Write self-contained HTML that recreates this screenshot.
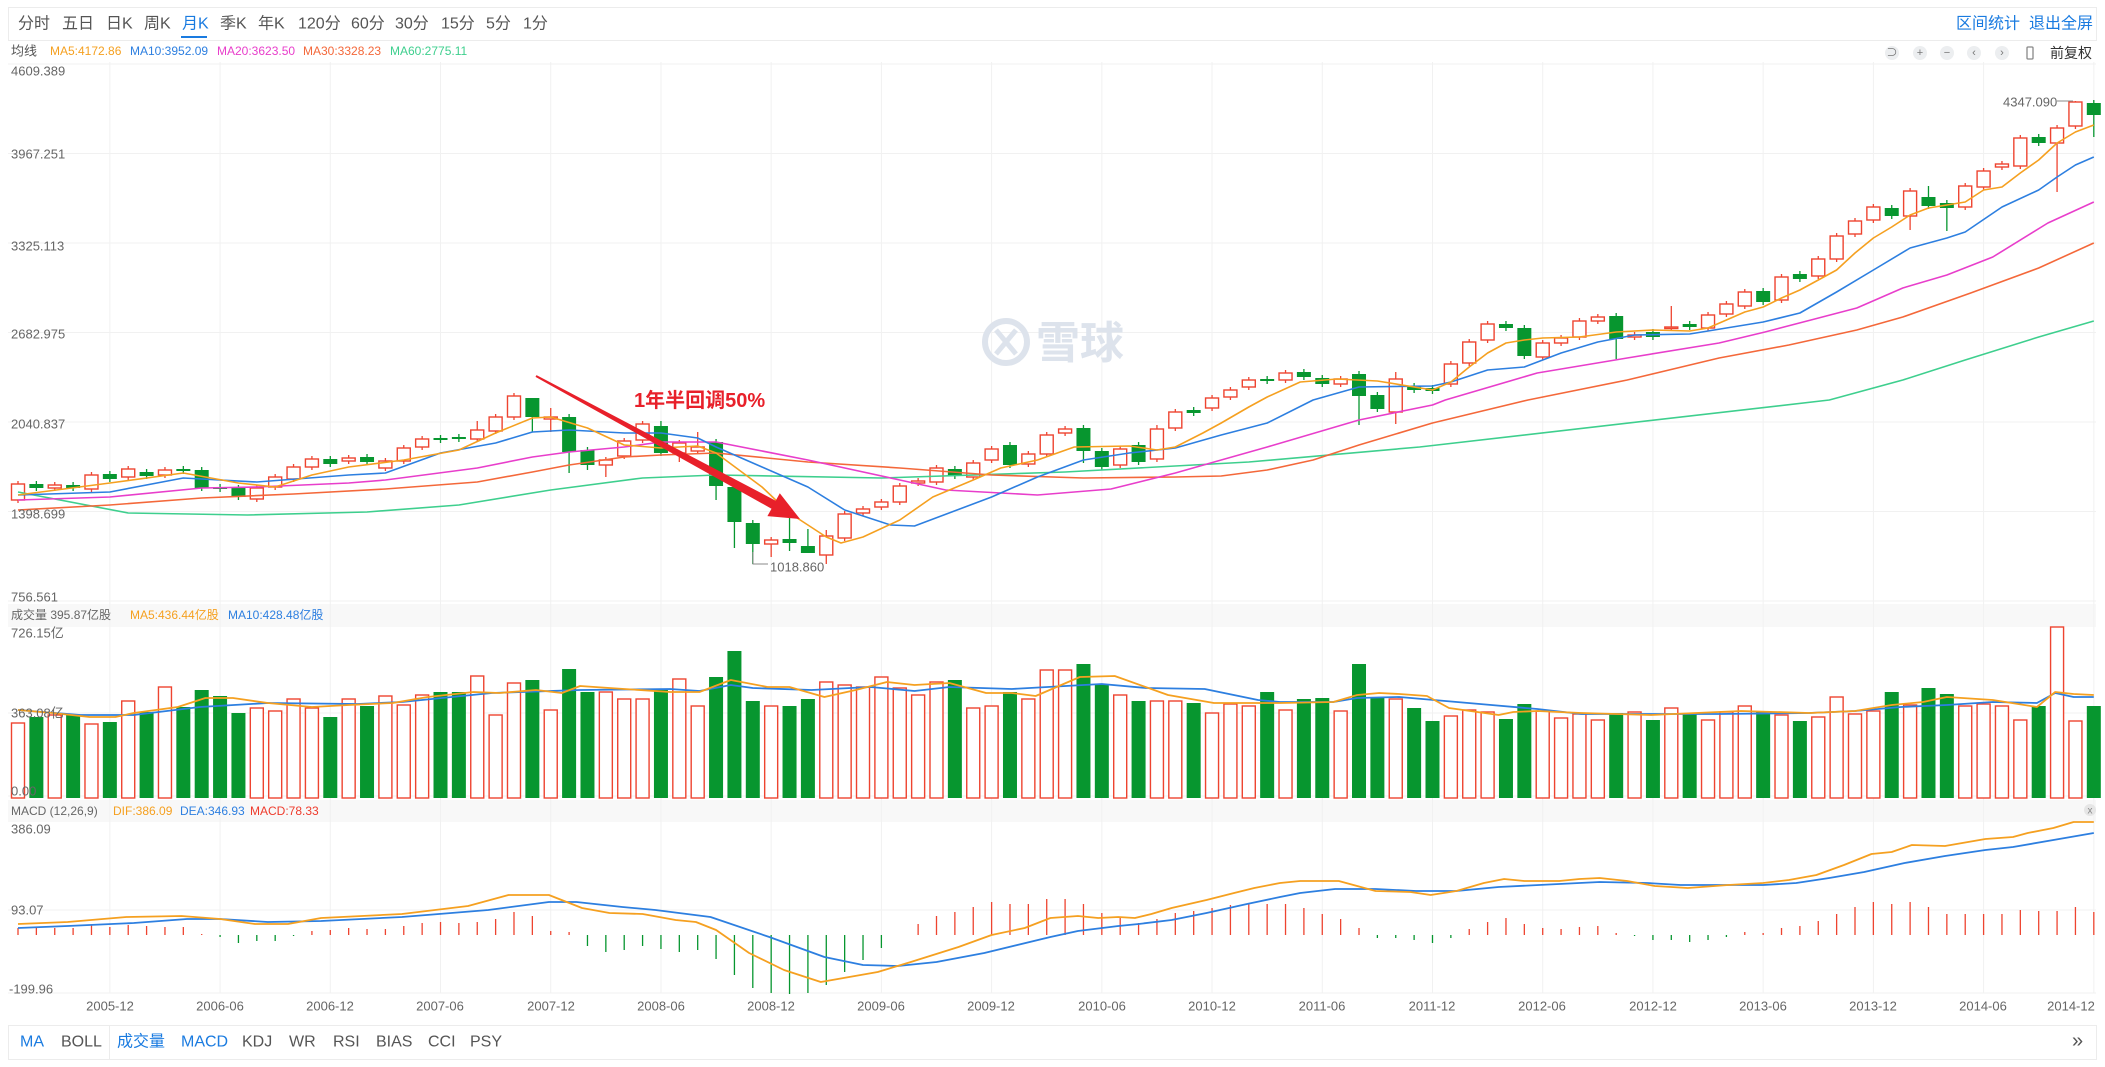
<!DOCTYPE html>
<html><head><meta charset="utf-8"><style>
html,body{margin:0;padding:0;background:#fff;}
body{width:2105px;height:1067px;overflow:hidden;position:relative;font-family:"Liberation Sans","Noto Sans CJK SC",sans-serif;}
svg{position:absolute;left:0;top:0;}
</style></head><body>
<svg id="s" width="2105" height="1067" xmlns="http://www.w3.org/2000/svg" font-family="Liberation Sans, Noto Sans CJK SC, sans-serif">
<rect x="8.5" y="7.5" width="2088" height="33" fill="#fff" stroke="#ececec"/>
<g font-size="16" fill="#555" dominant-baseline="central">
<text x="18" y="24">分时</text><text x="62" y="24">五日</text><text x="106" y="24">日K</text><text x="144" y="24">周K</text>
<text x="182" y="24" fill="#1a7be0">月K</text><text x="220" y="24">季K</text><text x="258" y="24">年K</text>
<text x="298" y="24">120分</text><text x="351" y="24">60分</text><text x="395" y="24">30分</text><text x="441" y="24">15分</text><text x="486" y="24">5分</text><text x="523" y="24">1分</text>
<text x="1956" y="24" fill="#1a7be0">区间统计</text><text x="2029" y="24" fill="#1a7be0">退出全屏</text>
</g>
<rect x="181" y="36" width="26" height="2" fill="#1a7be0"/>
<g font-size="12" dominant-baseline="central">
<text x="11" y="51" fill="#555" font-size="13">均线</text>
<text x="50" y="51" fill="#f5a020">MA5:4172.86</text>
<text x="130" y="51" fill="#2d7fe0">MA10:3952.09</text>
<text x="217" y="51" fill="#e83ecb">MA20:3623.50</text>
<text x="303" y="51" fill="#f4683a">MA30:3328.23</text>
<text x="390" y="51" fill="#3ecf8e">MA60:2775.11</text>
<text x="2050" y="53" fill="#333" font-size="14">前复权</text>
</g>
<g fill="#eceef0">
<circle cx="1892" cy="53" r="7"/><circle cx="1920" cy="53" r="7"/><circle cx="1947" cy="53" r="7"/><circle cx="1974" cy="53" r="7"/><circle cx="2002" cy="53" r="7"/>
</g>
<g font-size="11" fill="#777" text-anchor="middle" dominant-baseline="central">
<text x="1892" y="53">⊃</text><text x="1920" y="53">+</text><text x="1947" y="53">−</text><text x="1974" y="53">‹</text><text x="2002" y="53">›</text>
</g>
<rect x="2027" y="47" width="6" height="12" rx="1" fill="none" stroke="#888" stroke-width="1.3"/>
<rect x="8" y="604" width="2088" height="23" fill="#f8f8f8"/>
<rect x="8" y="800" width="2088" height="22" fill="#f8f8f8"/>
<g id="grid" stroke="#f1f1f1" stroke-width="1"></g>
<g>
<circle cx="1006" cy="342" r="21" fill="none" stroke="#dde3ec" stroke-width="6"/>
<path d="M996 330 L1016 354 M1016 330 L996 354" stroke="#dde3ec" stroke-width="5" fill="none"/>
<text x="1036" y="358" font-size="44" font-weight="bold" fill="#dde3ec">雪球</text>
</g>
<g id="plot"></g>
<g font-size="13" fill="#666" dominant-baseline="central">
<text x="11" y="71">4609.389</text><text x="11" y="154">3967.251</text><text x="11" y="246">3325.113</text>
<text x="11" y="334">2682.975</text><text x="11" y="424">2040.837</text><text x="11" y="514">1398.699</text><text x="11" y="597">756.561</text>
<text x="11" y="615" font-size="12">成交量 395.87亿股</text>
<text x="130" y="615" fill="#f5a020" font-size="12">MA5:436.44亿股</text>
<text x="228" y="615" fill="#2d7fe0" font-size="12">MA10:428.48亿股</text>
<text x="11" y="633">726.15亿</text><text x="11" y="713">363.08亿</text><text x="11" y="791">0.00</text>
<text x="11" y="811" font-size="12">MACD (12,26,9)</text>
<text x="113" y="811" fill="#f5a020" font-size="12">DIF:386.09</text>
<text x="180" y="811" fill="#2d7fe0" font-size="12">DEA:346.93</text>
<text x="250" y="811" fill="#ee3b2c" font-size="12">MACD:78.33</text>
<text x="11" y="829">386.09</text><text x="11" y="910">93.07</text><text x="9" y="989">-199.96</text>
<text x="770" y="567">1018.860</text>
<text x="2003" y="102">4347.090</text>
</g>
<circle cx="2090" cy="810" r="6" fill="#e6e6e6"/>
<text x="2090" y="811" font-size="10" fill="#888" text-anchor="middle" dominant-baseline="central">x</text>
<g font-size="13" fill="#666" text-anchor="middle" dominant-baseline="central">
<text x="110" y="1006">2005-12</text><text x="220" y="1006">2006-06</text><text x="330" y="1006">2006-12</text>
<text x="440" y="1006">2007-06</text><text x="551" y="1006">2007-12</text><text x="661" y="1006">2008-06</text>
<text x="771" y="1006">2008-12</text><text x="881" y="1006">2009-06</text><text x="991" y="1006">2009-12</text>
<text x="1102" y="1006">2010-06</text><text x="1212" y="1006">2010-12</text><text x="1322" y="1006">2011-06</text>
<text x="1432" y="1006">2011-12</text><text x="1542" y="1006">2012-06</text><text x="1653" y="1006">2012-12</text>
<text x="1763" y="1006">2013-06</text><text x="1873" y="1006">2013-12</text><text x="1983" y="1006">2014-06</text>
<text x="2071" y="1006">2014-12</text>
</g>
<polygon points="536.5,375.1 775.7,500.7 779.8,493.3 800,519 767.4,516.1 771.5,508.7 535.5,376.9" fill="#e8202a"/>
<text x="634" y="407" font-size="20" font-weight="bold" fill="#e8202a">1年半回调50%</text>
<rect x="8.5" y="1025.5" width="2088" height="34" fill="#fff" stroke="#ececec"/>
<line x1="109.5" y1="1026" x2="109.5" y2="1059" stroke="#ececec"/>
<g font-size="16" fill="#555" dominant-baseline="central">
<text x="20" y="1042" fill="#1a7be0">MA</text><text x="61" y="1042">BOLL</text>
<text x="117" y="1042" fill="#1a7be0">成交量</text><text x="181" y="1042" fill="#1a7be0">MACD</text>
<text x="242" y="1042">KDJ</text><text x="289" y="1042">WR</text><text x="333" y="1042">RSI</text>
<text x="376" y="1042">BIAS</text><text x="428" y="1042">CCI</text><text x="470" y="1042">PSY</text>
<text x="2072" y="1041" font-size="20">»</text>
</g>
</svg>
<script>
(function(){
var NS="http://www.w3.org/2000/svg";
var plot=document.getElementById('plot'),grid=document.getElementById('grid');
function el(p,t,a){var e=document.createElementNS(NS,t);for(var k in a)e.setAttribute(k,a[k]);p.appendChild(e);return e;}
function X(i){return 18+18.37*i;}
var RED="#ee4430",GRN="#07962f";
[64,153.5,243,332.5,422,511.5,601].forEach(function(y){el(grid,'line',{x1:8,x2:2096,y1:y,y2:y});});
[713,796].forEach(function(y){el(grid,'line',{x1:8,x2:2096,y1:y,y2:y});});
[910,993].forEach(function(y){el(grid,'line',{x1:8,x2:2096,y1:y,y2:y});});
for(var k=0;k<=18;k++){var gx=X(5+6*k);el(grid,'line',{x1:gx,x2:gx,y1:62,y2:993});}
var C=[[484,500,'R'],[484,488,'G'],[485,488,'R'],[485,488,'G'],[475,489,'R'],[474,479,'G'],[469,477,'R'],[472,476,'G'],[470,475,'R'],[469,471,'G'],
[470,488,'G'],[487,489,'G'],[488,497,'G'],[488,499,'R'],[477,487,'R'],[467,479,'R'],[459,467,'R'],[459,464,'G'],[458,461,'R'],[457,462,'G'],
[461,468,'R'],[448,461,'R'],[439,447,'R'],[438,440,'G'],[437,439,'G'],[430,439,'R'],[417,431,'R'],[396,417,'R'],[398,417,'G'],[417,419,'R'],
[417,452,'G'],[450,465,'G'],[460,465,'R'],[441,456,'R'],[424,440,'R'],[426,453,'G'],[443,453,'R'],[447,451,'R'],[442,486,'G'],[487,522,'G'],
[523,544,'G'],[540,544,'R'],[539,543,'G'],[546,553,'G'],[536,555,'R'],[514,538,'R'],[509,513,'R'],[502,507,'R'],[486,502,'R'],[481,483,'R'],
[468,482,'R'],[469,476,'G'],[463,477,'R'],[449,460,'R'],[445,465,'G'],[454,464,'R'],[435,454,'R'],[429,433,'R'],[428,451,'G'],[451,467,'G'],
[449,465,'R'],[445,462,'G'],[429,459,'R'],[412,428,'R'],[410,413,'G'],[398,408,'R'],[390,397,'R'],[380,387,'R'],[379,381,'G'],[373,380,'R'],
[372,377,'G'],[378,384,'G'],[379,384,'R'],[374,396,'G'],[395,409,'G'],[379,412,'R'],[386,390,'G'],[388,391,'G'],[364,384,'R'],[342,363,'R'],
[324,340,'R'],[324,328,'G'],[328,356,'G'],[343,357,'R'],[338,343,'R'],[321,337,'R'],[317,321,'R'],[316,339,'G'],[335,337,'R'],[332,337,'G'],
[327,328,'R'],[324,327,'G'],[315,328,'R'],[304,314,'R'],[292,306,'R'],[291,302,'G'],[277,300,'R'],[274,279,'G'],[259,276,'R'],[236,259,'R'],
[221,234,'R'],[207,220,'R'],[208,216,'G'],[191,216,'R'],[197,206,'G'],[203,208,'G'],[186,207,'R'],[171,187,'R'],[164,167,'R'],[138,166,'R'],
[137,143,'G'],[128,143,'R'],[102,126,'R'],[103,115,'G']];
var W={25:[421,null],27:[393,null],28:[398,432],29:[408,432],30:[null,473],31:[null,470],32:[null,477],35:[421,null],36:[null,462],37:[432,null],
38:[null,500],39:[null,548],40:[null,564],41:[null,557],42:[516,551],43:[529,553],44:[530,564],58:[null,463],62:[425,null],73:[null,425],75:[372,424],
87:[null,359],90:[306,null],103:[null,230],104:[186,null],105:[null,231],111:[null,192],112:[101,null],113:[null,137]};
C.forEach(function(c,i){
  var x=X(i),t=c[0],b=c[1],col=c[2]=='R'?RED:GRN;
  var hi=t-3,lo=b+3; if(W[i]){if(W[i][0]!=null)hi=W[i][0];if(W[i][1]!=null)lo=W[i][1];}
  el(plot,'line',{x1:x,x2:x,y1:hi,y2:lo,stroke:col,'stroke-width':1.3});
  var h=Math.max(1.5,b-t);
  if(c[2]=='R') el(plot,'rect',{x:x-6.5,y:t,width:13,height:h,fill:'#fff',stroke:col,'stroke-width':1.4});
  else el(plot,'rect',{x:x-7,y:t,width:14,height:h,fill:col});
});
el(plot,'polyline',{points:'753,552 753,564 768,564',fill:'none',stroke:'#888','stroke-width':1});
el(plot,'line',{x1:2057,x2:2073,y1:101,y2:101,stroke:'#888','stroke-width':1});
function line(pts,col,w){el(plot,'polyline',{points:pts.map(function(p){return X(p[0]).toFixed(1)+','+p[1];}).join(' '),fill:'none',stroke:col,'stroke-width':w||1.6,'stroke-linejoin':'round'});}
line([[0,492],[6,513],[12.5,515],[19,512],[24,505],[29,490],[34,478],[38,475],[47,478],[57,472],[67,462],[76.3,447],[98.6,400],[102.6,380],[106,360],[110,337],[113,321]],'#3ecf8e');
line([[0,510],[5,505],[10,498],[15,494],[20,489],[25,482],[28,472],[30,465],[33,457],[35,455],[38,453],[43,462],[48,468],[53,475],[58,478],[63,477],[65.5,476],[68,470],[70.5,460],[73,445],[77,423],[82.2,400],[87.6,380],[92.6,358],[96.4,345],[100.1,330],[102.6,317],[106.3,293],[110,268],[113,243]],'#f4683a');
line([[0,500],[5,497],[10,488],[13,487],[18,483],[20,480],[25,468],[28,457],[30,452],[33,447],[35,442],[38,442],[43,460],[48,480],[50.5,490],[55.5,495],[59.5,489],[63,473],[65.5,460],[68,447],[73,420],[77,405],[77.7,400],[82.7,373],[87.6,358],[92.6,343],[95.1,332],[97.6,320],[100.1,308],[102.6,288],[105,275],[107.5,257],[110.5,223],[113,202]],'#e83ecb');
line([[0,495],[5,492],[9,478],[10,479],[13,482],[18,475],[20,473],[23,453],[26,443],[28,432],[30,430],[33,433],[35,433],[37,438],[38,447],[40.5,467],[43,487],[45,510],[47.5,525],[48.8,526],[53,497],[55.5,477],[58,460],[60.5,453],[63,448],[65.5,435],[68,423],[70.5,400],[73,387],[77,386],[78,382],[80,370],[82,367],[84,353],[86,342],[88,335],[91,334],[93,328],[95,322],[97,313],[99,292],[101,270],[103,248],[105,238],[106,232],[108,207],[110,190],[111,177],[112,165],[113,157]],'#2d7fe0');
line([[0,495],[5,483],[9,473],[12,483],[14,487],[16,475],[18,467],[21,460],[24,450],[26,433],[28,418],[29,417],[31,428],[33,445],[35,448],[37,446],[38,453],[40.5,487],[42,513],[44,537],[44.8,543],[46,537],[48,520],[49.8,497],[52,480],[53.5,468],[55.5,460],[57.5,447],[60.5,446],[62,450],[63,447],[64.5,433],[65.5,423],[67,407],[68,397],[69.8,382],[71.8,379],[74,381],[77,390],[78,382],[79,367],[80,353],[81,343],[82,340],[83,338],[85,337],[87,332],[89,330],[91,331],[92,328],[93,320],[94,312],[95,307],[96,298],[97,290],[98,280],[99,270],[100,253],[101,238],[102,227],[103,215],[104,208],[105,205],[106,202],[107,190],[108,187],[109,173],[110,160],[111,143],[112,132],[113,125]],'#f5a020');
var V=[723,717,715,715,724,722,701,712,687,707,690,696,713,708,711,699,708,717,699,706,696,705,695,692,692,676,715,683,680,710,669,692,692,699,699,690,679,706,
677,651,701,706,706,699,682,685,687,677,688,695,682,680,708,706,692,699,670,670,664,685,695,701,701,701,703,713,704,706,692,710,699,698,711,664,697,699,
708,721,716,710,712,719,704,711,718,714,720,713,712,720,708,714,720,712,706,711,715,721,717,697,714,711,692,705,688,694,706,704,706,720,706,627,721,706];
var VB=798;
V.forEach(function(t,i){var x=X(i);
  if(C[i][2]=='R') el(plot,'rect',{x:x-6.5,y:t,width:13,height:VB-t,fill:'#fff',stroke:RED,'stroke-width':1.4});
  else el(plot,'rect',{x:x-7,y:t,width:14,height:VB-t,fill:GRN});
});
line([[0,710],[3.4,715],[6.3,715],[9.9,707],[13.6,703],[18.5,704],[20.9,702],[25.8,693],[30.6,690],[35.5,689],[37.1,691],[38.8,685],[40,688],[43.2,690],[46.4,687],[48.8,691],[50.7,687],[54.1,689],[59,684],[61.4,688],[64.6,689],[67.5,700],[68.7,702],[71.6,702],[72.9,698],[75.2,697],[77.7,701],[80.2,705],[82.7,709],[85.1,714],[92.6,714],[97.5,713],[100,711],[102.5,707],[105,705],[107.5,702],[109.9,703],[110.9,693],[111.9,697],[113,697]],'#2d7fe0',1.8);
line([[0,710],[1.9,713],[3.9,717],[5.3,717],[6.3,713],[8.7,707],[10.2,698],[11.7,698],[13.6,703],[16,707],[18,705],[20.4,703],[22.3,697],[24.8,692],[26.2,693],[28.2,690],[29.6,693],[30.6,686],[33,689],[35.5,692],[37.1,692],[38.8,680],[40.8,687],[42,687],[43.9,697],[45.6,690],[47.3,682],[48.8,685],[50.7,683],[52.7,693],[54.1,693],[55.4,696],[57.8,677],[59.7,676],[62.6,695],[65.1,703],[68.7,703],[71.6,702],[72.9,695],[74.1,693],[75.2,694],[76.7,696],[77.9,708],[80.6,715],[81.4,712],[82.7,711],[85.1,713],[88.9,715],[93.8,711],[97.5,713],[100,711],[102,705],[103.7,702],[105,697],[107.5,700],[109.9,707],[110.9,692],[111.9,694],[113,695]],'#f5a020',1.8);
var H=[928,928,928,928,925,927,925,926,927,927,934,937,943,941,941,936,931,930,928,929,929,926,923,922,923,922,919,912,916,931,932,946,952,950,946,949,952,950,959,975,988,993,994,993,985,972,960,948,935,924,916,912,907,902,904,904,899,
899,904,913,917,923,919,913,911,908,905,903,904,904,908,914,919,928,938,938,940,943,938,929,922,918,924,928,929,927,926,933,936,940,940,942,940,937,932,933,928,926,921,914,907,902,904,902,907,914,914,914,914,910,911,911,907,912];
var Z=935;
H.forEach(function(y,i){if(y==Z)return;var x=X(i);el(plot,'line',{x1:x,x2:x,y1:Z,y2:y,stroke:y<Z?RED:GRN,'stroke-width':1.3});});
line([[0,928],[2.7,926],[6.3,923],[9.2,919],[11,919],[13.6,922],[16.5,921],[20.9,917],[25.6,910],[28.9,902],[30.4,902],[32.9,907],[34.7,910],[37.7,917],[40.9,937],[43.9,957],[46,965],[47.9,966],[50,962],[52.6,953],[56.2,937],[57.7,931],[59.9,926],[61,924],[62.8,920],[64.7,913],[66.9,904],[68.7,897],[69.8,893],[71.7,889],[73.9,889],[76.1,891],[78.3,891],[80.6,887],[83.9,884],[86.1,882],[88.7,883],[90.5,885],[95,885],[96.8,883],[98.6,878],[100.5,872],[102.7,863],[104.9,856],[107.1,850],[108.6,847],[110.8,840],[113,833]],'#2d7fe0',1.8);
line([[0,924],[2.7,922],[5.9,917],[8.9,916],[11,919],[12.9,924],[14.7,924],[16.5,918],[20.9,914],[24.5,906],[26.7,895],[28.9,895],[30.7,908],[32.2,913],[34,914],[35.8,920],[36.9,922],[38,930],[39.8,953],[41.7,970],[43.7,982],[46.8,972],[48.6,962],[51.2,947],[53,935],[54.8,928],[56.2,918],[57.7,916],[58.8,918],[59.9,917],[60.8,918],[61.7,914],[62.8,908],[64.7,900],[66.2,893],[67.3,888],[68.7,883],[69.8,881],[71.9,881],[73.9,891],[75.8,892],[76.9,895],[78.3,891],[79.8,883],[80.9,879],[82,881],[83.9,881],[85,879],[86.1,878],[87.6,881],[89.1,886],[90.9,888],[93.1,885],[95,883],[96.4,880],[97.9,875],[99.4,865],[100.9,854],[102,852],[103.1,845],[104.9,846],[107.1,839],[108.6,837],[109.4,833],[110.8,828],[111.9,822],[113,822]],'#f5a020',1.8);
})();
</script>
</body></html>
